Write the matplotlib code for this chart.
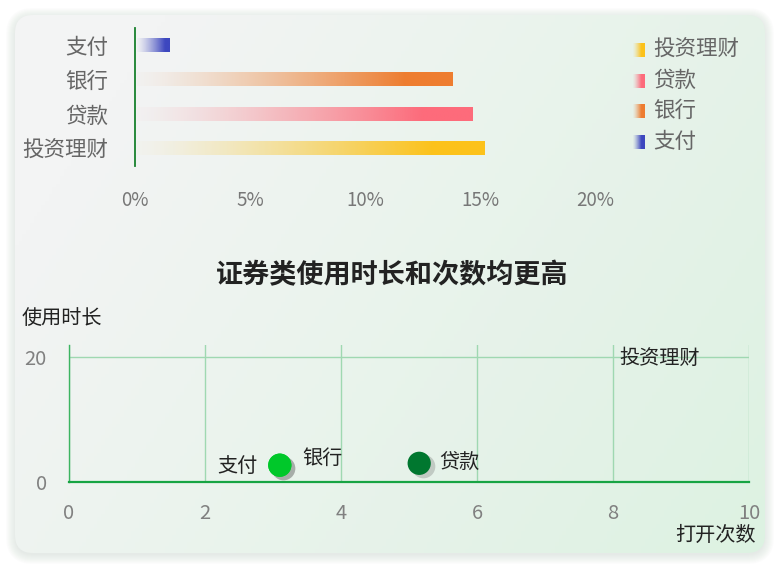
import numpy as np
import matplotlib
matplotlib.use("Agg")
import matplotlib.pyplot as plt
from matplotlib.patches import FancyBboxPatch
from matplotlib.colors import to_rgb

plt.rcParams['font.family'] = ['Noto Sans CJK SC', 'DejaVu Sans']

# 上方条形图数据
categories = ['投资理财', '贷款', '银行', '支付']
share = [15.2, 14.7, 13.8, 1.5]
bar_colors = ['#fcc21b', '#fd6b7b', '#ee7d30', '#3d47bf']
share_ticks = [0, 5, 10, 15, 20]

# 下方散点图数据
pt_names = ['支付', '银行', '贷款']
pt_open = [3.1, 3.1, 5.15]
pt_time = [2.7, 2.7, 3.0]
pt_colors = ['#00c82a', '#00c82a', '#00772f']
open_ticks = [0, 2, 4, 6, 8, 10]
time_ticks = [0, 20]

W, H = 780, 570
fig = plt.figure(figsize=(7.8, 5.7), dpi=100)


def fx(px):
    return px / W


def fy(py):
    return 1 - py / H


# 背景卡片
bg = fig.add_axes([0, 0, 1, 1], zorder=-5)
bg.set_xlim(0, W)
bg.set_ylim(H, 0)
bg.axis('off')
for k in range(10):
    sh = FancyBboxPatch((15 - k, 17 - k), 750 + 2 * k, 538 + 2 * k,
                        boxstyle="round,pad=0,rounding_size=%d" % (18 + k),
                        fc='#9aa89e', ec='none', alpha=0.022)
    bg.add_patch(sh)
card = FancyBboxPatch((15, 15), 750, 538, boxstyle="round,pad=0,rounding_size=18",
                      fc='none', ec='none')
bg.add_patch(card)
gx = np.linspace(0, 1, 200)
gy = np.linspace(0, 1, 150)
GX, GY = np.meshgrid(gx, gy)
t = np.clip(0.75 * GX + 0.35 * GY - 0.15, 0, 1)
c0 = np.array(to_rgb('#f3f4f4'))
c1 = np.array(to_rgb('#dcf2e1'))
img = c0[None, None, :] * (1 - t[..., None]) + c1[None, None, :] * t[..., None]
im = bg.imshow(img, extent=(15, 765, 553, 15), aspect='auto', zorder=1)
im.set_clip_path(card)


def grad_img(color, n=256, knee=0.85):
    r, g, b = to_rgb(color)
    u = np.linspace(0, 1, n)
    a = np.clip(u / knee, 0, 1) ** 1.3 * 0.98 + 0.02
    arr = np.zeros((1, n, 4))
    arr[0, :, 0] = r
    arr[0, :, 1] = g
    arr[0, :, 2] = b
    arr[0, :, 3] = a
    return arr


# 条形图
ax1 = fig.add_axes([fx(135), fy(166), fx(460), 138 / H])
ax1.patch.set_alpha(0)
for i, (v, c) in enumerate(zip(share, bar_colors)):
    ax1.imshow(grad_img(c), extent=(0.1, v, i - 0.19, i + 0.19), aspect='auto',
               interpolation='bilinear', zorder=2)
ax1.set_xlim(0, 20)
ax1.set_ylim(-0.5, 3.5)
ax1.set_yticks(range(len(categories)))
ax1.set_yticklabels(categories, fontsize=15.5, color='#666666')
ax1.set_xticks(share_ticks)
ax1.set_xticklabels(['%d%%' % s for s in share_ticks], fontsize=13.5, color='#777777')
ax1.tick_params(axis='both', length=0)
ax1.tick_params(axis='y', pad=19)
ax1.tick_params(axis='x', pad=17)
for s in ['top', 'right', 'bottom']:
    ax1.spines[s].set_visible(False)
ax1.spines['left'].set_color('#17802c')
ax1.spines['left'].set_linewidth(1.3)

# 图例
leg_y = [50, 81, 111, 142]
for i, (name, c) in enumerate(zip(categories, bar_colors)):
    y = leg_y[i]
    bg.imshow(grad_img(c, knee=0.7), extent=(633, 645, y + 7, y - 7), aspect='auto',
              interpolation='bilinear', zorder=3)
    bg.text(653, y, name, fontsize=15.5, color='#666666', va='center', ha='left', zorder=3)

# 标题
fig.text(fx(392), fy(275), '证券类使用时长和次数均更高', fontsize=19.5, color='#222222',
         ha='center', va='center', fontweight='bold')

# 散点图
ax2 = fig.add_axes([fx(69), fy(482), fx(680), 137 / H])
ax2.patch.set_alpha(0)
ax2.set_xlim(0, 10)
ax2.set_ylim(0, 22)
ax2.set_xticks(open_ticks)
ax2.set_yticks(time_ticks)
ax2.set_xticklabels([str(v) for v in open_ticks], fontsize=14.5, color='#808080')
ax2.set_yticklabels([str(v) for v in time_ticks], fontsize=14.5, color='#808080')
ax2.tick_params(axis='both', length=0)
ax2.tick_params(axis='x', pad=15)
ax2.tick_params(axis='y', pad=16)
ax2.grid(True, color='#9fd8b1', linewidth=1.0)
ax2.set_axisbelow(True)
for s in ['top', 'right']:
    ax2.spines[s].set_visible(False)
ax2.spines['bottom'].set_color('#17a443')
ax2.spines['bottom'].set_linewidth(1.6)
ax2.spines['left'].set_color('#3cb461')
ax2.spines['left'].set_linewidth(1.0)

ax2.scatter(np.array(pt_open) + 0.05, np.array(pt_time) - 0.45, s=290, color='#555555',
            alpha=0.25, linewidths=0, zorder=3, clip_on=False)
ax2.scatter(pt_open, pt_time, s=280, c=pt_colors, linewidths=0, zorder=4, clip_on=False)
offsets = {'支付': (-22, -1, 'right'), '银行': (22, 7, 'left'), '贷款': (20, 0, 'left')}
for name, x, y in zip(pt_names, pt_open, pt_time):
    dx, dy, ha = offsets[name]
    ax2.annotate(name, (x, y), xytext=(dx * 0.72, dy * 0.72), textcoords='offset points',
                 fontsize=14.5, color='#222222', ha=ha, va='center', zorder=5)
ax2.text(8.1, 19.8, '投资理财', fontsize=14.5, color='#222222', ha='left', va='center')

fig.text(fx(22), fy(318), '使用时长', fontsize=14.5, color='#222222', ha='left', va='center')
fig.text(fx(756), fy(535), '打开次数', fontsize=14.5, color='#222222', ha='right', va='center')

fig.savefig('out.png', dpi=100)
